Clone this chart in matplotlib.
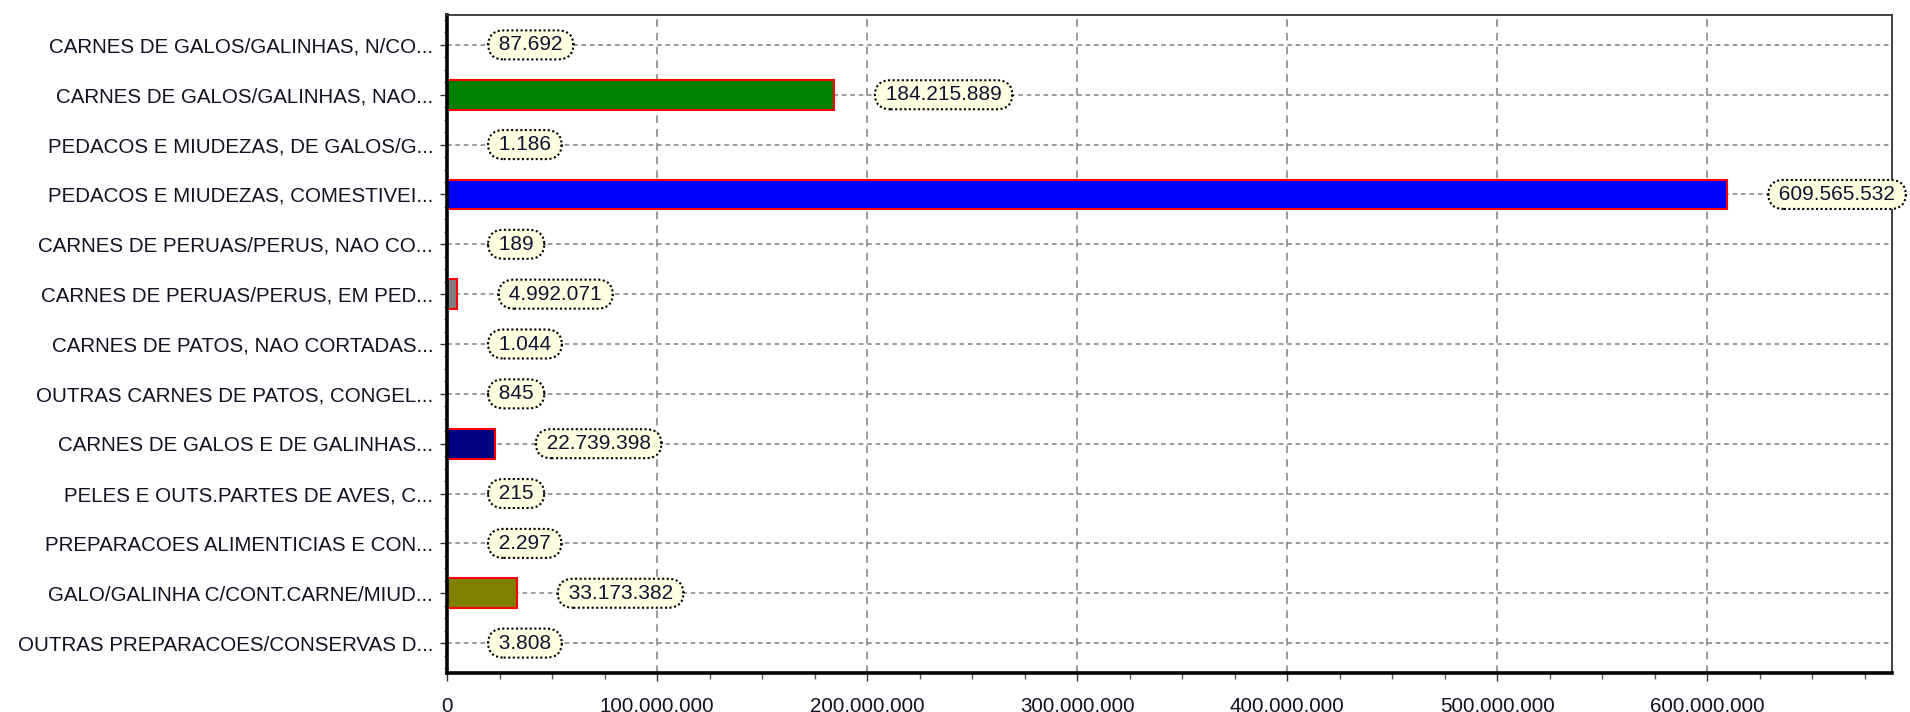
import matplotlib
matplotlib.use("Agg")
import matplotlib.pyplot as plt
from matplotlib.ticker import MultipleLocator, FuncFormatter

categories = [
    "CARNES DE GALOS/GALINHAS, N/CO...",
    "CARNES DE GALOS/GALINHAS, NAO...",
    "PEDACOS E MIUDEZAS, DE GALOS/G...",
    "PEDACOS E MIUDEZAS, COMESTIVEI...",
    "CARNES DE PERUAS/PERUS, NAO CO...",
    "CARNES DE PERUAS/PERUS, EM PED...",
    "CARNES DE PATOS, NAO CORTADAS...",
    "OUTRAS CARNES DE PATOS, CONGEL...",
    "CARNES DE GALOS E DE GALINHAS...",
    "PELES E OUTS.PARTES DE AVES, C...",
    "PREPARACOES ALIMENTICIAS E CON...",
    "GALO/GALINHA C/CONT.CARNE/MIUD...",
    "OUTRAS PREPARACOES/CONSERVAS D...",
]
values = [87692, 184215889, 1186, 609565532, 189, 4992071, 1044, 845,
          22739398, 215, 2297, 33173382, 3808]
bar_colors = ["#FF0000", "#008000", "#FFFF00", "#0000FF", "#FFFFFF", "#808080",
              "#FF00FF", "#008080", "#000080", "#800000", "#00FF00", "#808000",
              "#800080"]
x_ticks = [0, 100e6, 200e6, 300e6, 400e6, 500e6, 600e6]

def fmt(v):
    return f"{int(round(v)):,}".replace(",", ".")

plt.rcParams['font.family'] = ['Liberation Sans', 'DejaVu Sans']

fig = plt.figure(figsize=(19.1, 7.12), dpi=100)
ax = fig.add_axes([447/1910, 39/712, (1892-447)/1910, (673-15)/712])

pos = list(range(len(categories)))
ax.barh(pos, values, height=0.6, color=bar_colors, edgecolor="#FF0000",
        linewidth=1.5, zorder=2)

for p, v in zip(pos, values):
    ax.annotate(" " + fmt(v) + " ", xy=(v, p), xytext=(46, 0),
                textcoords="offset pixels", ha="left", va="center",
                fontsize=15, color="#111133", zorder=5,
                bbox=dict(boxstyle="round,pad=0.24,rounding_size=0.75",
                          fc="#FFFFE1", ec="black", ls=(0, (1, 1.2)), lw=1.5))

ax.set_ylim(12.6, -0.6)
ax.set_xlim(0, 688e6)
ax.set_yticks(pos)
ax.set_yticklabels(categories, fontsize=14.8, color="#111122")
ax.yaxis.set_minor_locator(MultipleLocator(0.25))
ax.set_xticks(x_ticks)
ax.xaxis.set_major_formatter(FuncFormatter(lambda v, _: fmt(v)))
ax.xaxis.set_minor_locator(MultipleLocator(25e6))
for lab in ax.get_xticklabels():
    lab.set_fontsize(14.8)
    lab.set_color("#111122")

ax.tick_params(axis="y", which="major", length=5, width=1, color="#333333", pad=5)
ax.tick_params(axis="y", which="minor", length=2.5, width=1, color="#555555")
ax.tick_params(axis="x", which="major", length=6, width=1, color="#333333", pad=11)
ax.tick_params(axis="x", which="minor", length=4, width=1, color="#555555")

ax.set_axisbelow(True)
ax.xaxis.grid(True, which="major", color="#808080", lw=1.1, ls=(0, (5, 4)))
ax.yaxis.grid(True, which="major", color="#808080", lw=1.1, ls=(0, (3, 2.5)))

for s in ("left", "bottom"):
    ax.spines[s].set_linewidth(2.6)
    ax.spines[s].set_color("black")
for s in ("top", "right"):
    ax.spines[s].set_linewidth(1.3)
    ax.spines[s].set_color("#333333")

fig.savefig("out.png", dpi=100)
